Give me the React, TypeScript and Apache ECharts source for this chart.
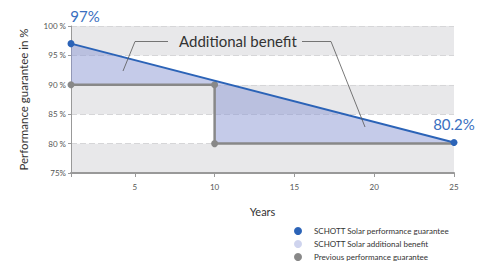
import React, { useEffect, useRef } from "react";
import * as echarts from "echarts";

const guaranteeYears = [1, 25];
const guaranteeValues = [97, 80.2];
const guaranteeLabels = ["97%", "80.2%"];
const previousYears = [1, 10, 10, 25];
const previousValues = [90, 90, 80, 80];
const previousMarked = [true, true, true, false];
const xTickValues = [1, 5, 10, 15, 20, 25];
const xLabelValues = [5, 10, 15, 20, 25];
const yTickLabels: Record<number, string> = { 75: "75%", 80: "80 %", 85: "85 %", 90: "90 %", 95: "95 %", 100: "100 %" };

const BLUE = "#2b63b7";
const GRAY = "#888888";
const FONT = "Lato, 'Open Sans', sans-serif";

export default function App() {
  const ref = useRef<HTMLDivElement>(null);
  useEffect(() => {
    if (!ref.current) return;
    const chart = echarts.init(ref.current, undefined, { renderer: "svg" });
    const bluePts = guaranteeYears.map((x, i) => [x, guaranteeValues[i]]);
    const grayPts = previousYears.map((x, i) => [x, previousValues[i]]);
    const polyData = [...bluePts, ...grayPts.slice().reverse()];
    chart.setOption({
      animation: false,
      textStyle: { fontFamily: FONT },
      grid: { left: 71, right: 35, top: 26, bottom: 91 },
      xAxis: {
        type: "value",
        min: 1,
        max: 25,
        name: "Years",
        nameLocation: "middle",
        nameGap: 33,
        nameTextStyle: { fontSize: 11, color: "#333", fontFamily: FONT },
        axisLine: { show: true, lineStyle: { color: "#999", width: 2 } },
        axisTick: { show: true, length: 4, lineStyle: { color: "#999" }, customValues: xTickValues },
        axisLabel: { fontSize: 8, color: "#555", margin: 10, customValues: xLabelValues, fontFamily: FONT },
        splitLine: { show: false },
      },
      yAxis: {
        type: "value",
        min: 75,
        max: 100,
        interval: 5,
        name: "Performance guarantee in %",
        nameLocation: "middle",
        nameGap: 42,
        nameTextStyle: { fontSize: 11.5, color: "#333", fontFamily: FONT },
        axisLine: { show: true, lineStyle: { color: "#999", width: 1 } },
        axisTick: { show: true, length: 3, lineStyle: { color: "#999" } },
        axisLabel: {
          fontSize: 8,
          color: "#555",
          margin: 5,
          fontFamily: FONT,
          formatter: (v: number) => yTickLabels[v] ?? "",
        },
        splitLine: { show: true, lineStyle: { color: "#d6d6d8", type: [6, 3], width: 1 } },
        splitArea: { show: true, areaStyle: { color: ["#e8e8ea", "#ffffff"] } },
      },
      legend: {
        orient: "vertical",
        left: 294,
        top: 227,
        height: 80,
        itemWidth: 14,
        itemHeight: 8,
        itemGap: 5,
        padding: 0,
        icon: "circle",
        textStyle: { fontSize: 8, color: "#333", padding: [0, 0, 0, 4], fontFamily: FONT },
        data: [
          "SCHOTT Solar performance guarantee",
          "SCHOTT Solar additional benefit",
          "Previous performance guarantee",
        ],
      },
      series: [
        {
          name: "SCHOTT Solar additional benefit",
          type: "custom",
          itemStyle: { color: "#cfd4ee" },
          data: [0],
          z: 1,
          renderItem: (_params: any, api: any) => ({
            type: "polygon",
            shape: { points: polyData.map((p) => api.coord(p)) },
            style: { fill: "rgba(140,152,212,0.5)", stroke: "none" },
          }),
        },
        {
          name: "Previous performance guarantee",
          type: "line",
          z: 3,
          itemStyle: { color: GRAY },
          lineStyle: { color: GRAY, width: 2.5 },
          symbol: "circle",
          data: grayPts.map((p, i) => ({ value: p, symbolSize: previousMarked[i] ? 7 : 0 })),
        },
        {
          name: "SCHOTT Solar performance guarantee",
          type: "line",
          z: 4,
          itemStyle: { color: BLUE },
          lineStyle: { color: BLUE, width: 2 },
          symbol: "circle",
          symbolSize: 7,
          data: bluePts.map((p, i) => ({
            value: p,
            label: {
              show: true,
              formatter: guaranteeLabels[i],
              position: "top",
              offset: i === 0 ? [14, -12] : [0, -2],
              fontSize: 15,
              color: "#3a6fc0",
              fontFamily: FONT,
            },
          })),
        },
      ],
      graphic: {
        elements: [
          {
            type: "text",
            x: 179,
            y: 33,
            z: 100,
            style: { text: "Additional benefit", fontSize: 15, fill: "#333", fontFamily: FONT },
          },
          {
            type: "polyline",
            z: 100,
            shape: { points: [[168, 41.5], [135, 41.5], [123, 71]] },
            style: { stroke: "#555", lineWidth: 0.8, fill: null },
          },
          {
            type: "polyline",
            z: 100,
            shape: { points: [[302, 41.5], [331, 41.5], [365, 127]] },
            style: { stroke: "#555", lineWidth: 0.8, fill: null },
          },
        ],
      },
    });
    return () => chart.dispose();
  }, []);
  return <div ref={ref} style={{ width: 489, height: 264, position: "absolute", left: 0, top: 0 }} />;
}
